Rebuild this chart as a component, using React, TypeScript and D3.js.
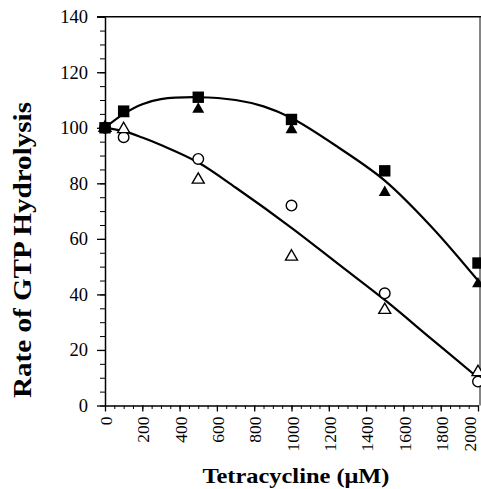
import React, { useEffect, useRef } from "react";
import * as d3 from "d3";

// tetracycline concentration (uM)
const conc = [0, 100, 500, 1000, 1500, 2000];

const filledSquares = [100, 106, 111, 103, 84.5, 51.3];
const filledTriangles = [100, 105, 106.7, 99.3, 76.7, 43.8];
const openCircles = [100, 96.6, 88.8, 72, 40.4, 8.6];
const openTriangles = [100, 99.5, 81.3, 53.6, 34.4, 12];

// fitted curves
const upperFitX = [0, 100, 200, 300, 500, 700, 850, 1000, 1250, 1500, 1750, 2000];
const upperFitY = [100, 105, 108.5, 110.3, 111, 110, 107.7, 103.5, 93, 81, 64.4, 45];
const lowerFitX = [0, 100, 200, 300, 500, 700, 1000, 1250, 1500, 1750, 2000];
const lowerFitY = [100, 98.8, 96.5, 93.8, 87.5, 78.5, 64, 51, 38, 24, 10];

const xTicks = d3.range(0, 2001, 200);
const xMinor = d3.range(0, 2001, 50);
const yTicks = d3.range(0, 141, 20);
const yMinor = d3.range(0, 141, 5);

const W = 481;
const H = 489;
const FONT = "Times New Roman, Times, Liberation Serif, DejaVu Serif, serif";

const App = () => {
  const ref = useRef<SVGSVGElement>(null);

  useEffect(() => {
    const svg = d3.select(ref.current);
    svg.selectAll("*").remove();

    const x = d3.scaleLinear().domain([0, 2000]).range([105, 478]);
    const y = d3.scaleLinear().domain([0, 140]).range([405.5, 16.7]);

    // frame top + right
    svg.append("line")
      .attr("x1", 97).attr("x2", W).attr("y1", y(140)).attr("y2", y(140))
      .attr("stroke", "#000").attr("stroke-width", 1.5);
    svg.append("line")
      .attr("x1", 480).attr("x2", 480).attr("y1", y(140)).attr("y2", y(0))
      .attr("stroke", "#333").attr("stroke-width", 1.2);

    // minor ticks
    const yAxisMinor = svg.append("g")
      .attr("transform", `translate(${x(0)},0)`)
      .call(d3.axisLeft(y).tickValues(yMinor).tickSize(5).tickFormat(() => ""));
    yAxisMinor.select(".domain").remove();
    const xAxisMinor = svg.append("g")
      .attr("transform", `translate(0,${y(0)})`)
      .call(d3.axisBottom(x).tickValues(xMinor).tickSize(3.5).tickFormat(() => ""));
    xAxisMinor.select(".domain").remove();

    // Y axis
    const yAxis = svg.append("g")
      .attr("transform", `translate(${x(0)},0)`)
      .call(d3.axisLeft(y).tickValues(yTicks).tickSize(8).tickPadding(9).tickSizeOuter(0));
    yAxis.attr("font-family", FONT).attr("font-size", 18.5);
    yAxis.select(".domain").attr("stroke-width", 1.5);
    yAxis.selectAll("line").attr("stroke-width", 1.3);
    yAxis.selectAll("text").attr("fill", "#000");

    // X axis
    const xAxis = svg.append("g")
      .attr("transform", `translate(0,${y(0)})`)
      .call(d3.axisBottom(x).tickValues(xTicks).tickFormat(d3.format("d")).tickSize(6).tickSizeOuter(0));
    xAxis.attr("font-family", FONT).attr("font-size", 17.5);
    xAxis.select(".domain").attr("stroke-width", 1.5);
    xAxis.selectAll("line").attr("stroke-width", 1.3);
    xAxis.selectAll<SVGTextElement, number>("text")
      .attr("fill", "#000")
      .attr("transform", "rotate(-90)")
      .attr("text-anchor", "end")
      .attr("x", -11).attr("y", 0)
      // last label sits on the right edge; nudge it inside
      .attr("dy", (d) => (d === 2000 ? "-0.12em" : "0.38em"));

    // axis titles (the original type is set wide, so stretch to its measured length)
    svg.append("text")
      .attr("transform", `translate(31,${250}) rotate(-90)`)
      .attr("text-anchor", "middle")
      .attr("font-family", FONT).attr("font-weight", "bold").attr("font-size", 25)
      .attr("textLength", 296).attr("lengthAdjust", "spacingAndGlyphs")
      .text("Rate of GTP Hydrolysis");
    svg.append("text")
      .attr("x", 296).attr("y", 483)
      .attr("text-anchor", "middle")
      .attr("font-family", FONT).attr("font-weight", "bold").attr("font-size", 21.5)
      .attr("textLength", 187).attr("lengthAdjust", "spacingAndGlyphs")
      .text("Tetracycline (\u03bcM)");

    // fitted curves
    const line = d3.line<[number, number]>()
      .x((d) => x(d[0])).y((d) => y(d[1]))
      .curve(d3.curveCatmullRom.alpha(0.5));
    svg.append("path")
      .attr("d", line(upperFitX.map((v, i) => [v, upperFitY[i]]))!)
      .attr("fill", "none").attr("stroke", "#000").attr("stroke-width", 2.2);
    svg.append("path")
      .attr("d", line(lowerFitX.map((v, i) => [v, lowerFitY[i]]))!)
      .attr("fill", "none").attr("stroke", "#000").attr("stroke-width", 2.2);

    // markers
    const tri = d3.symbol().type(d3.symbolTriangle).size(62);
    svg.append("g").selectAll("circle")
      .data(conc.map((c, i) => [c, openCircles[i]]))
      .join("circle")
      .attr("cx", (d) => x(d[0])).attr("cy", (d) => y(d[1])).attr("r", 5.3)
      .attr("fill", "#fff").attr("stroke", "#000").attr("stroke-width", 1.4);
    svg.append("g").selectAll("path")
      .data(conc.map((c, i) => [c, openTriangles[i]]))
      .join("path")
      .attr("transform", (d) => `translate(${x(d[0])},${y(d[1])})`)
      .attr("d", tri()!)
      .attr("fill", "#fff").attr("stroke", "#000").attr("stroke-width", 1.4);
    svg.append("g").selectAll("path")
      .data(conc.map((c, i) => [c, filledTriangles[i]]))
      .join("path")
      .attr("transform", (d) => `translate(${x(d[0])},${y(d[1])})`)
      .attr("d", tri()!)
      .attr("fill", "#000");
    svg.append("g").selectAll("rect")
      .data(conc.map((c, i) => [c, filledSquares[i]]))
      .join("rect")
      .attr("x", (d) => x(d[0]) - 5.7).attr("y", (d) => y(d[1]) - 5.7)
      .attr("width", 11.4).attr("height", 11.4)
      .attr("fill", "#000");
  }, []);

  return (
    <svg
      ref={ref}
      width={W}
      height={H}
      style={{ position: "absolute", left: 0, top: 0, background: "#fff", display: "block" }}
    />
  );
};

export default App;
